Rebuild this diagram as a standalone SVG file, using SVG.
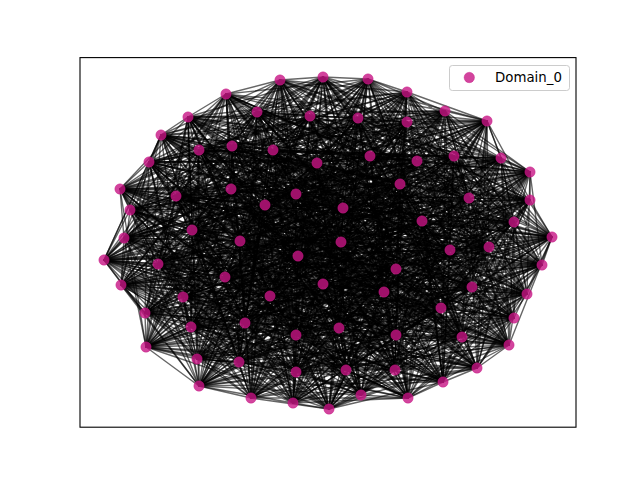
<svg xmlns="http://www.w3.org/2000/svg" width="640" height="480" viewBox="0 0 640 480">
<style>
.e{fill:none;stroke:#000;stroke-opacity:.6;stroke-width:1.4;stroke-linejoin:round}
.n{fill:#c71585;fill-opacity:.8;stroke:#c71585;stroke-opacity:.8;stroke-width:.5}
.t{font-family:"DejaVu Sans","Liberation Sans",sans-serif;font-size:13.33px;fill:#000}
</style>
<rect width="640" height="480" fill="#fff"/>
<g id="connectors">
<path class="e" d="M226,94 188,117 161,135 199,150 232,146 149,162 120,189 231,189 176,196 130,210 192,230 124,238 240,241 280,80 323,77 368,79 407,92 257,112 310,116 358,118 407,122 273,150 317,163 370,156 417,161 400,184 296,194 265,205 343,208 341,242 445,111 487,121 501,158 530,172 454,156 469,198 530,200 514,222 422,221 552,237 489,247 450,250 104,260 158,264 121,285 225,277 183,297 145,313 245,323 191,327 146,347 197,359 239,362 199,386 251,398 298,256 396,269 323,284 384,292 270,296 296,335 339,328 396,335 296,372 346,370 395,370 293,403 329,409 361,395 408,398 542,265 472,287 527,294 441,308 514,318 462,337 509,345 477,368 443,382Z"/>
<path class="e" d="M226,94 199,150 120,189 130,210 240,241 368,79 310,116 273,150 417,161 265,205 445,111 530,172 530,200 552,237 104,260 225,277 245,323 197,359 251,398 323,284 296,335 296,372 293,403 408,398 527,294 462,337 443,382 161,135 149,162 176,196 124,238 323,77 257,112 407,122 370,156 296,194 341,242 501,158 469,198 422,221 450,250 121,285 145,313 146,347 199,386 396,269 270,296 396,335 395,370 361,395 472,287 514,318 477,368 188,117 232,146 231,189 192,230 280,80 407,92 358,118 317,163 400,184 343,208 487,121 454,156 514,222 489,247 158,264 183,297 191,327 239,362 298,256 384,292 339,328 346,370 329,409 542,265 441,308 509,345Z"/>
<path class="e" d="M226,94 149,162 192,230 368,79 407,122 400,184 445,111 469,198 489,247 225,277 146,347 298,256 296,335 395,370 542,265 462,337 188,117 120,189 124,238 407,92 273,150 296,194 487,121 530,200 450,250 183,297 197,359 396,269 339,328 293,403 472,287 509,345 161,135 231,189 240,241 257,112 317,163 265,205 501,158 514,222 104,260 145,313 239,362 323,284 396,335 329,409 527,294 477,368 199,150 176,196 280,80 310,116 370,156 343,208 530,172 422,221 158,264 245,323 199,386 384,292 296,372 361,395 441,308 443,382 232,146 130,210 323,77 358,118 417,161 341,242 454,156 552,237 121,285 191,327 251,398 270,296 346,370 408,398 514,318Z"/>
<path class="e" d="M226,94 231,189 323,77 273,150 343,208 469,198 104,260 191,327 396,269 296,372 542,265 477,368 149,162 240,241 358,118 296,194 530,172 489,247 145,313 251,398 339,328 361,395 462,337 199,150 192,230 257,112 417,161 487,121 422,221 225,277 239,362 270,296 293,403 441,308 188,117 176,196 368,79 317,163 341,242 530,200 158,264 146,347 323,284 346,370 472,287 443,382 120,189 280,80 407,122 265,205 454,156 450,250 245,323 298,256 396,335 408,398 509,345 232,146 124,238 310,116 400,184 501,158 552,237 183,297 199,386 296,335 329,409 514,318 161,135 130,210 407,92 370,156 445,111 514,222 121,285 197,359 384,292 395,370 527,294Z"/>
<path class="e" d="M226,94 130,210 310,116 265,205 530,200 225,277 251,398 296,372 527,294 161,135 124,238 407,122 341,242 422,221 145,313 396,269 395,370 514,318 232,146 280,80 317,163 487,121 489,247 191,327 384,292 329,409 509,345 120,189 368,79 417,161 530,172 104,260 197,359 296,335 408,398 443,382 176,196 257,112 296,194 469,198 121,285 199,386 396,335 472,287 188,117 192,230 358,118 343,208 514,222 183,297 298,256 346,370 441,308 199,150 240,241 273,150 445,111 552,237 245,323 323,284 293,403 462,337 149,162 323,77 370,156 501,158 450,250 146,347 270,296 361,395 477,368 231,189 407,92 400,184 454,156 158,264 239,362 339,328 542,265Z"/>
<path class="e" d="M226,94 124,238 317,163 530,172 121,285 298,256 293,403 477,368 130,210 407,122 487,121 104,260 199,386 346,370 462,337 231,189 310,116 341,242 489,247 197,359 396,335 441,308 149,162 407,92 265,205 422,221 191,327 296,335 472,287 199,150 323,77 400,184 530,200 145,313 384,292 408,398 188,117 240,241 370,156 454,156 225,277 396,269 329,409 443,382 192,230 273,150 501,158 158,264 251,398 395,370 509,345 176,196 358,118 445,111 450,250 239,362 296,372 514,318 120,189 257,112 343,208 552,237 146,347 339,328 527,294 232,146 368,79 296,194 514,222 245,323 270,296 542,265 161,135 280,80 417,161 469,198 183,297 323,284 361,395Z"/>
<path class="e" d="M226,94 280,80 296,194 552,237 239,362 395,370 443,382 240,241 400,184 422,221 197,359 346,370 477,368 124,238 417,161 514,222 146,347 296,372 509,345 192,230 370,156 530,200 191,327 396,335 462,337 130,210 317,163 469,198 245,323 339,328 514,318 176,196 273,150 454,156 145,313 296,335 441,308 231,189 407,122 530,172 183,297 270,296 527,294 120,189 358,118 501,158 225,277 384,292 472,287 149,162 310,116 487,121 121,285 323,284 542,265 232,146 257,112 445,111 158,264 396,269 408,398 199,150 407,92 341,242 104,260 298,256 361,395 161,135 368,79 343,208 450,250 251,398 329,409 188,117 323,77 265,205 489,247 199,386 293,403Z"/>
<path class="e" d="M226,94 368,79 445,111 225,277 296,335 462,337 124,238 296,194 450,250 396,269 472,287 231,189 317,163 514,222 239,362 329,409 199,150 310,116 530,172 245,323 296,372 443,382 323,77 341,242 121,285 270,296 514,318 192,230 400,184 489,247 298,256 542,265 120,189 273,150 530,200 197,359 293,403 161,135 257,112 501,158 145,313 396,335 477,368 280,80 343,208 158,264 384,292 441,308 130,210 417,161 552,237 251,398 408,398 149,162 407,122 469,198 146,347 395,370 188,117 407,92 487,121 183,297 339,328 509,345 240,241 265,205 104,260 323,284 527,294 176,196 370,156 422,221 199,386 361,395 232,146 358,118 454,156 191,327 346,370Z"/>
<path class="e" d="M226,94 257,112 454,156 197,359 361,395 120,189 370,156 489,247 323,284 514,318 240,241 341,242 183,297 296,372 188,117 310,116 469,198 239,362 408,398 231,189 417,161 450,250 384,292 462,337 280,80 445,111 145,313 346,370 161,135 358,118 530,200 199,386 542,265 176,196 400,184 104,260 270,296 509,345 323,77 487,121 245,323 395,370 199,150 407,122 514,222 251,398 472,287 130,210 296,194 158,264 296,335 477,368 368,79 501,158 191,327 293,403 232,146 273,150 422,221 298,256 527,294 192,230 265,205 121,285 339,328 443,382 407,92 530,172 146,347 329,409 149,162 317,163 552,237 396,269 441,308 124,238 343,208 225,277 396,335Z"/>
<path class="e" d="M226,94 358,118 422,221 323,284 509,345 407,92 469,198 251,398 441,308 280,80 501,158 197,359 542,265 192,230 341,242 245,323 329,409 231,189 296,194 225,277 346,370 232,146 370,156 104,260 339,328 188,117 407,122 552,237 384,292 477,368 257,112 530,200 298,256 514,318 323,77 530,172 239,362 472,287 124,238 445,111 191,327 361,395 176,196 265,205 183,297 395,370 149,162 417,161 158,264 396,335 161,135 273,150 489,247 270,296 443,382 310,116 514,222 396,269 462,337 368,79 454,156 199,386 527,294 240,241 487,121 146,347 408,398 130,210 343,208 145,313 293,403 120,189 400,184 121,285 296,372 199,150 317,163 450,250 296,335Z"/>
<path class="e" d="M226,94 273,150 104,260 296,372 149,162 296,194 145,313 361,395 192,230 487,121 239,362 441,308 368,79 530,200 323,284 443,382 407,122 450,250 396,335 232,146 400,184 183,297 329,409 130,210 445,111 197,359 527,294 323,77 469,198 396,269 477,368 358,118 489,247 339,328 199,150 417,161 225,277 293,403 176,196 341,242 146,347 472,287 280,80 454,156 298,256 509,345 310,116 552,237 296,335 161,135 370,156 121,285 395,370 231,189 343,208 191,327 542,265 240,241 530,172 251,398 462,337 257,112 422,221 270,296 188,117 317,163 158,264 346,370 120,189 265,205 245,323 408,398 124,238 501,158 199,386 514,318 407,92 514,222 384,292Z"/>
<path class="e" d="M226,94 370,156 183,297 408,398 280,80 530,200 270,296 199,150 296,194 191,327 527,294 407,92 552,237 396,335 120,189 341,242 239,362 462,337 358,118 104,260 395,370 130,210 501,158 298,256 443,382 317,163 225,277 361,395 240,241 469,198 384,292 161,135 400,184 245,323 472,287 368,79 422,221 339,328 149,162 343,208 197,359 514,318 310,116 450,250 346,370 176,196 487,121 251,398 477,368 273,150 121,285 329,409 124,238 454,156 323,284 188,117 417,161 145,313 542,265 323,77 514,222 296,335 232,146 265,205 146,347 441,308 257,112 489,247 296,372 231,189 445,111 199,386 509,345 407,122 158,264 293,403 192,230 530,172 396,269Z"/>
<path class="e" d="M226,94 400,184 146,347 462,337 273,150 183,297 472,287 257,112 104,260 329,409 280,80 422,221 296,372 130,210 454,156 270,296 149,162 445,111 298,256 188,117 296,194 197,359 509,345 317,163 145,313 527,294 310,116 158,264 361,395 323,77 552,237 346,370 192,230 469,198 296,335 120,189 487,121 396,269 161,135 265,205 239,362 477,368 370,156 245,323 441,308 358,118 121,285 408,398 368,79 489,247 395,370 124,238 530,200 339,328 231,189 501,158 323,284 199,150 343,208 199,386 443,382 417,161 191,327 514,318 407,122 225,277 542,265 407,92 450,250 293,403 240,241 514,222 396,335 176,196 530,172 384,292 232,146 341,242 251,398Z"/>
<path class="e" d="M226,94 265,205 251,398 161,135 341,242 396,269 232,146 487,121 384,292 120,189 530,172 296,335 176,196 469,198 396,335 192,230 514,222 346,370 240,241 552,237 293,403 323,77 450,250 361,395 407,92 158,264 542,265 310,116 225,277 527,294 407,122 145,313 514,318 317,163 191,327 509,345 417,161 197,359 443,382 296,194 199,386 188,117 343,208 298,256 199,150 445,111 323,284 149,162 501,158 270,296 231,189 454,156 339,328 130,210 530,200 296,372 124,238 422,221 395,370 280,80 489,247 329,409 368,79 104,260 408,398 257,112 121,285 472,287 358,118 183,297 441,308 273,150 245,323 462,337 370,156 146,347 477,368 400,184 239,362Z"/>
<path class="e" d="M226,94 341,242 384,292 176,196 514,222 293,403 407,92 225,277 514,318 417,161 199,386 199,150 501,158 339,328 124,238 489,247 408,398 358,118 245,323 477,368 265,205 396,269 120,189 469,198 346,370 323,77 158,264 527,294 317,163 197,359 188,117 445,111 270,296 130,210 422,221 329,409 257,112 183,297 462,337 400,184 251,398 232,146 530,172 396,335 240,241 450,250 542,265 407,122 191,327 443,382 343,208 323,284 231,189 530,200 395,370 368,79 121,285 441,308 370,156 239,362 161,135 487,121 296,335 192,230 552,237 361,395 310,116 145,313 509,345 296,194 298,256 149,162 454,156 296,372 280,80 104,260 472,287 273,150 146,347Z"/>
<path class="e" d="M226,94 487,121 396,335 323,77 225,277 509,345 343,208 270,296 124,238 104,260 441,308 400,184 396,269 176,196 552,237 542,265 317,163 199,386 149,162 530,200 329,409 358,118 146,347 161,135 530,172 346,370 407,92 145,313 443,382 445,111 339,328 280,80 121,285 462,337 265,205 384,292 192,230 450,250 527,294 417,161 298,256 231,189 422,221 408,398 273,150 239,362 232,146 469,198 293,403 310,116 191,327 188,117 501,158 296,372 368,79 183,297 477,368 341,242 296,335 240,241 158,264 514,318 296,194 323,284 130,210 489,247 472,287 370,156 251,398 120,189 514,222 361,395 407,122 197,359 199,150 454,156 395,370 257,112 245,323Z"/>
<path class="e" d="M226,94 530,172 293,403 407,122 199,386 231,189 489,247 441,308 265,205 296,335 323,77 145,313 188,117 454,156 329,409 273,150 251,398 176,196 450,250 514,318 343,208 339,328 368,79 245,323 161,135 469,198 361,395 317,163 298,256 130,210 104,260 462,337 341,242 396,335 407,92 191,327 199,150 530,200 408,398 370,156 396,269 192,230 158,264 509,345 445,111 296,372 257,112 146,347 232,146 514,222 542,265 417,161 323,284 124,238 121,285 477,368 487,121 346,370 310,116 197,359 149,162 422,221 472,287 400,184 384,292 240,241 225,277 443,382 501,158 395,370 358,118 239,362 120,189 552,237 527,294 296,194 270,296 280,80 183,297Z"/>
<path class="e" d="M226,94 469,198 542,265 296,194 339,328 257,112 239,362 176,196 158,264 443,382 454,156 408,398 400,184 296,335 407,92 197,359 231,189 104,260 477,368 530,172 361,395 417,161 270,296 368,79 146,347 120,189 450,250 509,345 501,158 329,409 370,156 384,292 323,77 191,327 149,162 489,247 462,337 487,121 293,403 317,163 323,284 280,80 245,323 232,146 552,237 514,318 445,111 395,370 273,150 396,269 240,241 145,313 199,150 422,221 441,308 341,242 346,370 407,122 298,256 124,238 183,297 161,135 514,222 527,294 343,208 296,372 358,118 251,398 192,230 225,277 188,117 530,200 472,287 265,205 396,335 310,116 199,386 130,210 121,285Z"/>
<path class="e" d="M226,94 514,222 514,318 501,158 408,398 265,205 346,370 317,163 270,296 257,112 251,398 240,241 191,327 231,189 121,285 161,135 552,237 509,345 454,156 472,287 341,242 293,403 417,161 339,328 358,118 396,269 323,77 197,359 130,210 183,297 232,146 450,250 443,382 530,200 441,308 487,121 361,395 296,194 296,372 273,150 384,292 407,92 199,386 124,238 245,323 120,189 158,264 188,117 422,221 462,337 530,172 542,265 343,208 395,370 370,156 296,335 310,116 298,256 280,80 146,347 176,196 225,277 199,150 489,247 477,368 469,198 527,294 445,111 329,409 400,184 396,335 407,122 323,284 368,79 239,362 192,230 145,313 149,162 104,260Z"/>
<path class="e" d="M226,94 552,237 443,382 422,221 477,368 514,222 509,345 530,200 462,337 469,198 514,318 454,156 441,308 530,172 527,294 501,158 472,287 487,121 542,265 445,111 408,398 341,242 361,395 343,208 329,409 265,205 293,403 296,194 395,370 400,184 346,370 417,161 296,372 370,156 396,335 317,163 339,328 273,150 296,335 407,122 270,296 358,118 384,292 310,116 323,284 257,112 396,269 407,92 298,256 368,79 251,398 323,77 199,386 280,80 239,362 240,241 197,359 124,238 146,347 192,230 191,327 130,210 245,323 176,196 145,313 231,189 183,297 120,189 225,277 149,162 121,285 232,146 158,264 199,150 104,260 161,135 450,250 188,117 489,247Z"/>
</g>
<g id="nodes">
<g id="n0"><circle class="n" cx="226" cy="94" r="5.2"/></g>
<g id="n1"><circle class="n" cx="188" cy="117" r="5.2"/></g>
<g id="n2"><circle class="n" cx="161" cy="135" r="5.2"/></g>
<g id="n3"><circle class="n" cx="199" cy="150" r="5.2"/></g>
<g id="n4"><circle class="n" cx="232" cy="146" r="5.2"/></g>
<g id="n5"><circle class="n" cx="149" cy="162" r="5.2"/></g>
<g id="n6"><circle class="n" cx="120" cy="189" r="5.2"/></g>
<g id="n7"><circle class="n" cx="231" cy="189" r="5.2"/></g>
<g id="n8"><circle class="n" cx="176" cy="196" r="5.2"/></g>
<g id="n9"><circle class="n" cx="130" cy="210" r="5.2"/></g>
<g id="n10"><circle class="n" cx="192" cy="230" r="5.2"/></g>
<g id="n11"><circle class="n" cx="124" cy="238" r="5.2"/></g>
<g id="n12"><circle class="n" cx="240" cy="241" r="5.2"/></g>
<g id="n13"><circle class="n" cx="280" cy="80" r="5.2"/></g>
<g id="n14"><circle class="n" cx="323" cy="77" r="5.2"/></g>
<g id="n15"><circle class="n" cx="368" cy="79" r="5.2"/></g>
<g id="n16"><circle class="n" cx="407" cy="92" r="5.2"/></g>
<g id="n17"><circle class="n" cx="257" cy="112" r="5.2"/></g>
<g id="n18"><circle class="n" cx="310" cy="116" r="5.2"/></g>
<g id="n19"><circle class="n" cx="358" cy="118" r="5.2"/></g>
<g id="n20"><circle class="n" cx="407" cy="122" r="5.2"/></g>
<g id="n21"><circle class="n" cx="273" cy="150" r="5.2"/></g>
<g id="n22"><circle class="n" cx="317" cy="163" r="5.2"/></g>
<g id="n23"><circle class="n" cx="370" cy="156" r="5.2"/></g>
<g id="n24"><circle class="n" cx="417" cy="161" r="5.2"/></g>
<g id="n25"><circle class="n" cx="400" cy="184" r="5.2"/></g>
<g id="n26"><circle class="n" cx="296" cy="194" r="5.2"/></g>
<g id="n27"><circle class="n" cx="265" cy="205" r="5.2"/></g>
<g id="n28"><circle class="n" cx="343" cy="208" r="5.2"/></g>
<g id="n29"><circle class="n" cx="341" cy="242" r="5.2"/></g>
<g id="n30"><circle class="n" cx="445" cy="111" r="5.2"/></g>
<g id="n31"><circle class="n" cx="487" cy="121" r="5.2"/></g>
<g id="n32"><circle class="n" cx="501" cy="158" r="5.2"/></g>
<g id="n33"><circle class="n" cx="530" cy="172" r="5.2"/></g>
<g id="n34"><circle class="n" cx="454" cy="156" r="5.2"/></g>
<g id="n35"><circle class="n" cx="469" cy="198" r="5.2"/></g>
<g id="n36"><circle class="n" cx="530" cy="200" r="5.2"/></g>
<g id="n37"><circle class="n" cx="514" cy="222" r="5.2"/></g>
<g id="n38"><circle class="n" cx="422" cy="221" r="5.2"/></g>
<g id="n39"><circle class="n" cx="552" cy="237" r="5.2"/></g>
<g id="n40"><circle class="n" cx="489" cy="247" r="5.2"/></g>
<g id="n41"><circle class="n" cx="450" cy="250" r="5.2"/></g>
<g id="n42"><circle class="n" cx="104" cy="260" r="5.2"/></g>
<g id="n43"><circle class="n" cx="158" cy="264" r="5.2"/></g>
<g id="n44"><circle class="n" cx="121" cy="285" r="5.2"/></g>
<g id="n45"><circle class="n" cx="225" cy="277" r="5.2"/></g>
<g id="n46"><circle class="n" cx="183" cy="297" r="5.2"/></g>
<g id="n47"><circle class="n" cx="145" cy="313" r="5.2"/></g>
<g id="n48"><circle class="n" cx="245" cy="323" r="5.2"/></g>
<g id="n49"><circle class="n" cx="191" cy="327" r="5.2"/></g>
<g id="n50"><circle class="n" cx="146" cy="347" r="5.2"/></g>
<g id="n51"><circle class="n" cx="197" cy="359" r="5.2"/></g>
<g id="n52"><circle class="n" cx="239" cy="362" r="5.2"/></g>
<g id="n53"><circle class="n" cx="199" cy="386" r="5.2"/></g>
<g id="n54"><circle class="n" cx="251" cy="398" r="5.2"/></g>
<g id="n55"><circle class="n" cx="298" cy="256" r="5.2"/></g>
<g id="n56"><circle class="n" cx="396" cy="269" r="5.2"/></g>
<g id="n57"><circle class="n" cx="323" cy="284" r="5.2"/></g>
<g id="n58"><circle class="n" cx="384" cy="292" r="5.2"/></g>
<g id="n59"><circle class="n" cx="270" cy="296" r="5.2"/></g>
<g id="n60"><circle class="n" cx="296" cy="335" r="5.2"/></g>
<g id="n61"><circle class="n" cx="339" cy="328" r="5.2"/></g>
<g id="n62"><circle class="n" cx="396" cy="335" r="5.2"/></g>
<g id="n63"><circle class="n" cx="296" cy="372" r="5.2"/></g>
<g id="n64"><circle class="n" cx="346" cy="370" r="5.2"/></g>
<g id="n65"><circle class="n" cx="395" cy="370" r="5.2"/></g>
<g id="n66"><circle class="n" cx="293" cy="403" r="5.2"/></g>
<g id="n67"><circle class="n" cx="329" cy="409" r="5.2"/></g>
<g id="n68"><circle class="n" cx="361" cy="395" r="5.2"/></g>
<g id="n69"><circle class="n" cx="408" cy="398" r="5.2"/></g>
<g id="n70"><circle class="n" cx="542" cy="265" r="5.2"/></g>
<g id="n71"><circle class="n" cx="472" cy="287" r="5.2"/></g>
<g id="n72"><circle class="n" cx="527" cy="294" r="5.2"/></g>
<g id="n73"><circle class="n" cx="441" cy="308" r="5.2"/></g>
<g id="n74"><circle class="n" cx="514" cy="318" r="5.2"/></g>
<g id="n75"><circle class="n" cx="462" cy="337" r="5.2"/></g>
<g id="n76"><circle class="n" cx="509" cy="345" r="5.2"/></g>
<g id="n77"><circle class="n" cx="477" cy="368" r="5.2"/></g>
<g id="n78"><circle class="n" cx="443" cy="382" r="5.2"/></g>
</g>
<rect id="axes" x="80" y="57.6" width="496" height="369.6" fill="none" stroke="#000" stroke-width="1.1"/>
<g id="legend">
<rect x="449.5" y="65.5" width="120" height="25" rx="2.8" fill="#fff" fill-opacity=".8" stroke="#ccc" stroke-width="1"/>
<circle class="n" cx="469.3" cy="77.5" r="5.2"/>
<text class="t" x="495" y="82">Domain_0</text>
</g>
</svg>
